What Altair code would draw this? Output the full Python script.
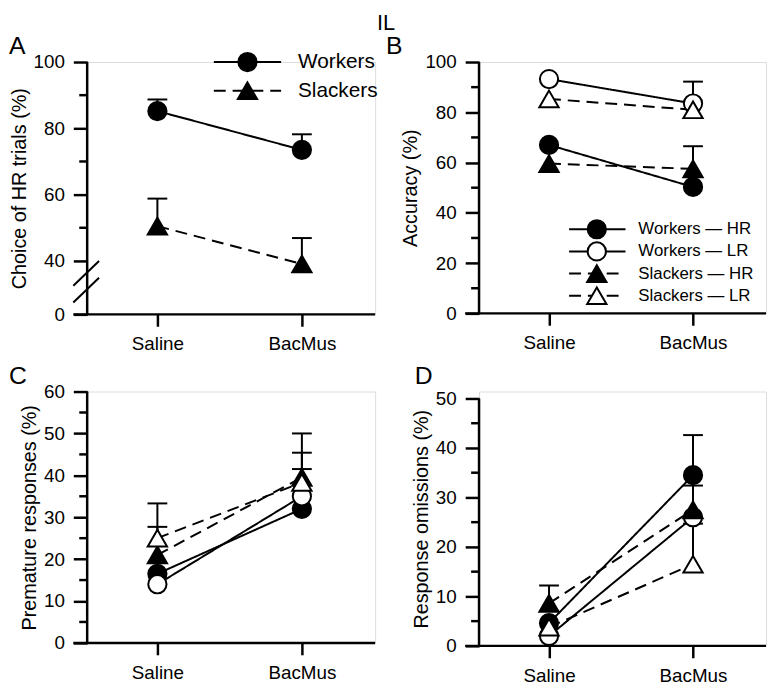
import altair as alt
import pandas as pd

FONT = "Liberation Sans"

conditions = ["Saline", "BacMus"]

# ---------------- Panel A : choice of HR trials ----------------
a_groups = ["Workers", "Slackers"]
a_means = {"Workers": [85.2, 73.5], "Slackers": [50.5, 37.7]}
a_upper = {"Workers": [88.7, 78.2], "Slackers": [58.8, 46.9]}

# ---------------- Panels B-D : four groups ----------------
groups = ["Workers — HR", "Workers — LR", "Slackers — HR", "Slackers — LR"]

b_means = {
    "Workers — HR": [67.0, 50.3],
    "Workers — LR": [93.2, 83.5],
    "Slackers — HR": [59.6, 57.5],
    "Slackers — LR": [85.3, 81.0],
}
b_upper = {
    "Workers — HR": [None, None],
    "Workers — LR": [None, 92.2],
    "Slackers — HR": [None, 66.5],
    "Slackers — LR": [None, None],
}

c_means = {
    "Workers — HR": [16.5, 32.0],
    "Workers — LR": [14.0, 35.0],
    "Slackers — HR": [21.0, 39.5],
    "Slackers — LR": [25.0, 38.3],
}
c_upper = {
    "Workers — HR": [None, None],
    "Workers — LR": [None, 41.5],
    "Slackers — HR": [27.7, 50.0],
    "Slackers — LR": [33.3, 45.4],
}

d_means = {
    "Workers — HR": [4.6, 34.5],
    "Workers — LR": [2.0, 26.0],
    "Slackers — HR": [8.6, 27.5],
    "Slackers — LR": [3.8, 16.5],
}
d_upper = {
    "Workers — HR": [None, 42.6],
    "Workers — LR": [None, None],
    "Slackers — HR": [12.2, 32.4],
    "Slackers — LR": [None, 24.7],
}

# marker / line style per group
STYLE = {
    "Workers": ("circle", "black", [1, 0]),
    "Slackers": ("triangle-up", "black", [12, 7]),
    "Workers — HR": ("circle", "black", [1, 0]),
    "Workers — LR": ("circle", "white", [1, 0]),
    "Slackers — HR": ("triangle-up", "black", [12, 7]),
    "Slackers — LR": ("triangle-up", "white", [12, 7]),
}
SIZE = {"circle": 340, "triangle-up": 380}

XDOM = [-0.486, 1.507]
LW = 2.5


def long_df(order, means, upper):
    rows = []
    for g in order:
        for i, c in enumerate(conditions):
            rows.append({"group": g, "x": i, "cond": c, "mean": means[g][i],
                         "up": upper[g][i]})
    return pd.DataFrame(rows)


def one(**kw):
    return pd.DataFrame({k: [v] for k, v in kw.items()})


def panel(df, order, width, height, yscale, major, minor, ylo, yhi, ytitle,
          legend, letter, letter_x, extra=None):
    xs = alt.Scale(domain=XDOM, nice=False, zero=False)
    xaxis = alt.Axis(values=[0, 1], labelExpr="%s[round(datum.value)]" % str(conditions),
                     domain=False, grid=False, tickSize=12, tickWidth=LW, tickColor="black",
                     labelFontSize=19, labelColor="black", labelFont=FONT,
                     labelPadding=9, title=None)
    yaxis = alt.Axis(values=major, domain=False, grid=False, tickSize=14, tickWidth=LW,
                     tickColor="black", labelFontSize=19, labelColor="black", labelFont=FONT,
                     labelPadding=9, title=ytitle, titleFontSize=20, titleFont=FONT,
                     titleFontWeight="normal", titleColor="black", titlePadding=4)

    def X(f="x:Q"):
        return alt.X(f, scale=xs, axis=xaxis)

    def Y(f):
        return alt.Y(f, scale=yscale, axis=yaxis)

    # axis lines and minor ticks
    xline = alt.Chart(one(a=0)).mark_rule(color="black", strokeWidth=LW).encode(
        x=alt.value(-14), x2=alt.value(width), y=alt.value(height))
    yline = alt.Chart(one(lo=ylo, hi=yhi)).mark_rule(color="black", strokeWidth=LW).encode(
        x=alt.value(0), y=Y("lo:Q"), y2="hi:Q")
    mticks = alt.Chart(pd.DataFrame({"v": minor})).mark_rule(color="black", strokeWidth=LW).encode(
        x=alt.value(-8), x2=alt.value(0), y=Y("v:Q"))

    layers = [xline, yline, mticks]
    line_layers, err_layers, pt_layers = [], [], []
    for g in order:
        shp, fl, ds = STYLE[g]
        gdf = df[df["group"] == g]
        line_layers.append(alt.Chart(gdf).mark_line(color="black", strokeWidth=2, strokeDash=ds).encode(
            x=X(), y=Y("mean:Q")))
        edf = gdf.dropna(subset=["up"])
        if len(edf):
            err_layers.append(alt.Chart(edf).mark_rule(color="black", strokeWidth=2).encode(
                x=X(), y=Y("mean:Q"), y2="up:Q"))
            err_layers.append(alt.Chart(edf).mark_tick(orient="horizontal", size=20, thickness=2,
                                                       color="black", opacity=1).encode(
                x=X(), y=Y("up:Q")))
        pt_layers.append(alt.Chart(gdf).mark_point(shape=shp, fill=fl, stroke="black", strokeWidth=2,
                                                   size=SIZE[shp], opacity=1, fillOpacity=1).encode(
            x=X(), y=Y("mean:Q")))
    layers += line_layers + err_layers + pt_layers

    # legend
    lg_items, lx0, lx1, lxs, lxt, ly0, ldy, lfs = legend
    for i, g in enumerate(lg_items):
        yy = ly0 + i * ldy
        shp, fl, ds = STYLE[g]
        layers.append(alt.Chart(one(a=0)).mark_rule(color="black", strokeWidth=2, strokeDash=ds).encode(
            x=alt.value(lx0), x2=alt.value(lx1), y=alt.value(yy)))
        layers.append(alt.Chart(one(a=0)).mark_point(shape=shp, fill=fl, stroke="black", strokeWidth=2,
                                                   size=SIZE[shp], opacity=1, fillOpacity=1).encode(
            x=alt.value(lxs), y=alt.value(yy)))
        layers.append(alt.Chart(one(label=g)).mark_text(align="left", baseline="middle", fontSize=lfs,
                                                      font=FONT, color="black").encode(
            x=alt.value(lxt), y=alt.value(yy), text="label:N"))

    # panel letter
    layers.append(alt.Chart(one(label=letter)).mark_text(align="left", baseline="alphabetic", fontSize=25,
                                                       font=FONT, color="black").encode(
        x=alt.value(letter_x), y=alt.value(-8), text="label:N"))
    if extra:
        layers.extend(extra)
    return alt.layer(*layers).properties(width=width, height=height)


# ---- A ----
dfa = long_df(a_groups, a_means, a_upper)
ya = alt.Scale(domain=[0, 40, 100], range=[255, 201, 0], nice=False, zero=False)
extra_a = [
    alt.Chart(one(a=0)).mark_rule(color="black", strokeWidth=2).encode(
        x=alt.value(-14), x2=alt.value(12), y=alt.value(226), y2=alt.value(201)),
    alt.Chart(one(a=0)).mark_rule(color="black", strokeWidth=2).encode(
        x=alt.value(-14), x2=alt.value(12), y=alt.value(243), y2=alt.value(218)),
    alt.Chart(one(label="IL")).mark_text(align="center", baseline="alphabetic", fontSize=22,
                                        font=FONT, color="black").encode(
        x=alt.value(302), y=alt.value(-32), text="label:N"),
]
A = panel(dfa, a_groups, 291, 255, ya, [0, 40, 60, 80, 100], [50, 70, 90], 0, 100,
          "Choice of HR trials (%)",
          (a_groups, 128, 196, 162, 213, 0, 29, 21), "A", -79, extra_a)

# ---- B ----
dfb = long_df(groups, b_means, b_upper)
yb = alt.Scale(domain=[0, 100], nice=False, zero=False)
B = panel(dfb, groups, 290, 254, yb, [0, 20, 40, 60, 80, 100], [10, 30, 50, 70, 90], 0, 100,
          "Accuracy (%)", (groups, 91, 148, 119, 161, 169, 22.4, 17), "B", -94)

# ---- C ----
dfc = long_df(groups, c_means, c_upper)
yc = alt.Scale(domain=[0, 60], nice=False, zero=False)
C = panel(dfc, groups, 291, 254, yc, [0, 10, 20, 30, 40, 50, 60], [5, 15, 25, 35, 45, 55], 0, 60,
          "Premature responses (%)", ([], 0, 0, 0, 0, 0, 0, 17), "C", -79)

# ---- D ----
dfd = long_df(groups, d_means, d_upper)
yd = alt.Scale(domain=[0, 51.4], nice=False, zero=False)
D = panel(dfd, groups, 290, 257, yd, [0, 10, 20, 30, 40, 50], [5, 15, 25, 35, 45], 0, 50,
          "Response omissions (%)", ([], 0, 0, 0, 0, 0, 0, 17), "D", -65)

chart = alt.concat(A, B, C, D, columns=2, bounds="flush",
                   spacing={"row": 78, "column": 105}).properties(
    padding={"left": 0, "top": 0, "right": 0, "bottom": 0}
).configure_view(stroke=None).configure(font=FONT)

chart.save("out.html", embed_options={"renderer": "svg", "actions": False})
